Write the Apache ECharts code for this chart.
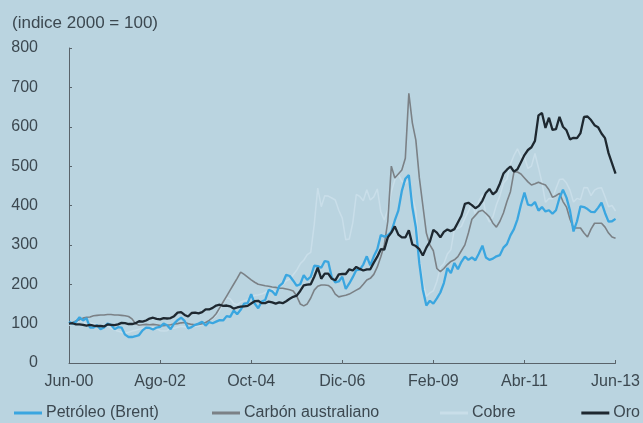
<!DOCTYPE html>
<html>
<head>
<meta charset="utf-8">
<script src="https://cdn.jsdelivr.net/npm/echarts@6/dist/echarts.min.js"></script>
<style>
html,body{margin:0;padding:0;background:#bad4e0;}
#c{width:643px;height:423px;}
</style>
</head>
<body>
<div id="c"></div>
<script>
// Monthly categories Jun-00 .. Jun-13
const monthNames = ['Ene','Feb','Mar','Abr','May','Jun','Jul','Ago','Sep','Oct','Nov','Dic'];
const categories = [];
for (let y = 2000; y <= 2013; y++) {
  for (let m = 0; m < 12; m++) {
    if (y === 2000 && m < 5) continue;
    if (y === 2013 && m > 5) continue;
    categories.push(monthNames[m] + '-' + String(y % 100).padStart(2, '0'));
  }
}
const tickLabels = ['Jun-00','Ago-02','Oct-04','Dic-06','Feb-09','Abr-11','Jun-13'];
const yTicks = [0,100,200,300,400,500,600,700,800];

const petroleo = [
  105,100,105,116,108,114,90,
  90,96,86,90,100,97,86,91,90,72,66,66,
  68,71,83,90,89,85,90,92,100,96,86,100,
  109,115,107,88,91,97,100,105,95,104,101,105,
  109,108,119,117,133,124,135,151,152,175,151,139,
  156,160,186,182,172,195,203,224,221,209,196,200,
  223,211,219,247,246,242,259,257,218,205,207,219,
  188,202,218,236,237,250,271,248,271,289,325,321,
  324,333,362,387,437,468,477,396,344,253,186,146,
  158,151,164,179,203,241,228,254,238,257,270,262,
  268,261,278,298,268,262,265,271,274,293,302,324,
  340,365,402,433,402,400,409,387,396,385,388,379,
  388,419,440,420,387,334,360,398,396,391,384,383,
  394,407,381,359,360,366
];
const carbon = [
  100,103,107,110,114,116,117,
  120,121,122,122,123,123,122,122,121,120,118,112,
  100,96,97,98,97,98,97,95,95,96,97,99,
  100,102,103,100,98,97,98,100,103,108,115,125,
  140,155,170,185,200,215,231,225,218,211,205,200,
  198,196,195,193,192,190,190,188,186,183,170,150,
  145,150,165,185,195,198,198,197,190,175,168,170,
  172,175,180,185,190,200,211,215,225,244,270,300,
  360,500,470,480,490,520,685,610,566,470,400,330,
  300,285,240,232,240,250,258,262,270,285,300,330,
  365,375,385,388,380,371,355,345,360,381,410,435,
  485,485,480,470,460,452,455,459,455,452,440,421,
  425,431,410,396,365,343,343,343,330,320,340,355,
  355,355,345,330,320,317
];
const cobre = [
  96,99,103,108,105,99,102,
  100,98,96,92,95,88,84,81,78,76,78,81,
  83,86,88,88,88,91,88,82,81,82,88,88,
  91,93,92,88,91,93,94,97,99,106,113,121,
  134,152,166,163,151,148,155,158,160,166,172,173,
  175,179,186,187,179,194,199,209,213,224,236,252,
  261,275,281,352,444,397,425,424,419,414,388,368,
  313,315,356,428,423,412,440,414,422,442,384,363,
  389,435,465,479,462,456,464,421,386,272,205,169,
  178,183,207,243,252,277,288,340,342,347,368,385,
  407,378,412,427,377,358,371,402,425,457,467,505,
  527,544,524,523,494,500,532,496,458,408,418,417,
  443,466,467,457,439,409,418,415,446,445,425,439,
  444,445,422,397,400,386
];
const oro = [
  100,101,98,98,97,95,97,
  95,94,94,93,98,97,96,98,102,101,99,99,
  101,106,105,108,113,115,112,111,114,113,114,119,
  128,129,122,118,127,128,126,129,136,136,140,146,
  148,145,146,144,138,141,143,144,145,151,157,158,
  152,152,156,154,151,154,152,157,163,168,171,183,
  197,199,200,219,242,214,227,227,214,210,225,226,
  226,238,235,244,239,235,238,238,255,270,289,288,
  319,331,347,326,319,319,337,301,297,289,273,293,
  308,338,331,319,333,339,335,340,357,374,404,407,
  401,393,399,412,432,442,428,436,456,481,491,499,
  486,492,510,528,541,548,564,629,635,597,623,592,
  594,625,600,591,568,572,571,584,625,626,617,604,
  599,583,571,533,507,481
];

const seriesNames = ['Petróleo (Brent)','Carbón australiano','Cobre','Oro'];
const colors = ['#3aa6e0','#7b8186','#c9dee9','#1e2830'];
const textColor = '#3c4850';
const font = 'Liberation Sans, Arial, sans-serif';

const chart = echarts.init(document.getElementById('c'));
function mkSeries(name, data, color, width, z) {
  return {name, type:'line', data, showSymbol:false, symbol:'none', z,
    lineStyle:{color, width}, itemStyle:{color}};
}
const legendPlace = [{left:14},{left:212},{left:440},{right:3}];
chart.setOption({
  backgroundColor:'#bad4e0',
  animation:false,
  title:{text:'(indice 2000 = 100)', left:7, top:10,
    textStyle:{fontSize:17, fontWeight:'normal', color:textColor, fontFamily:font}},
  grid:{left:69, right:24, top:48, bottom:60},
  legend: seriesNames.map((n,i)=>Object.assign({
    data:[n], bottom:2, padding:0, icon:'rect', itemWidth:28, itemHeight:3, itemGap:8,
    textStyle:{fontSize:16, color:textColor, fontFamily:font, padding:[0,0,0,-1]}
  }, legendPlace[i])),
  xAxis:{type:'category', data:categories, boundaryGap:false,
    axisLine:{lineStyle:{color:'#59636a', width:1}},
    axisTick:{inside:true, length:3, interval:(i)=>tickLabels.includes(categories[i]), lineStyle:{color:'#59636a'}},
    axisLabel:{interval:(i)=>tickLabels.includes(categories[i]), color:textColor, fontSize:16, fontFamily:font, margin:11},
    splitLine:{show:false}},
  yAxis:{type:'value', min:yTicks[0], max:yTicks[yTicks.length-1], interval:100,
    axisLine:{show:true, lineStyle:{color:'#59636a'}},
    axisTick:{show:true, inside:true, length:3, lineStyle:{color:'#59636a'}},
    axisLabel:{color:textColor, fontSize:16, fontFamily:font, margin:31},
    splitLine:{show:false}},
  series:[
    mkSeries(seriesNames[2], cobre, colors[2], 1.5, 1),
    mkSeries(seriesNames[1], carbon, colors[1], 1.6, 2),
    mkSeries(seriesNames[0], petroleo, colors[0], 2.3, 3),
    mkSeries(seriesNames[3], oro, colors[3], 2.3, 4)
  ]
});
</script>
</body>
</html>
